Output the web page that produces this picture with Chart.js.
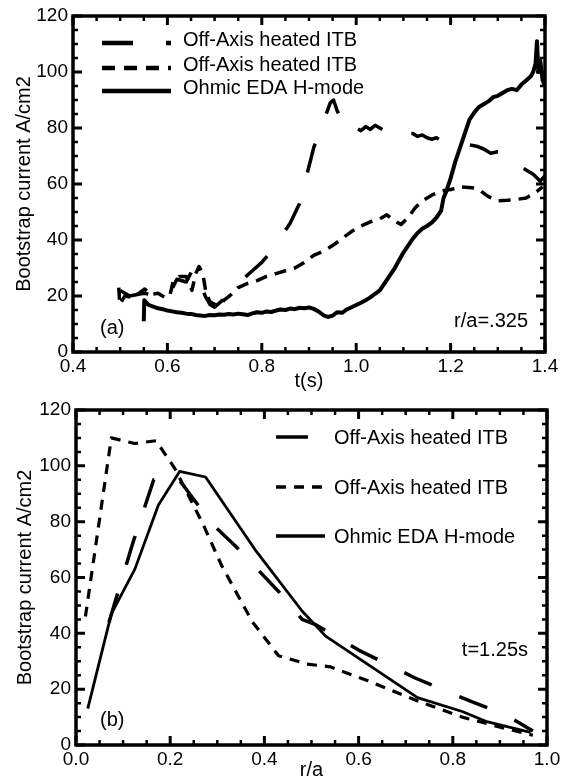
<!DOCTYPE html>
<html>
<head>
<meta charset="utf-8">
<script src="https://cdn.jsdelivr.net/npm/chart.js@4.4.0/dist/chart.umd.min.js"></script>
<style>
  body { margin: 0; background: #fff; }
  canvas { display: block; }
</style>
</head>
<body>
<canvas id="chartTempo" width="569" height="393"></canvas>
<canvas id="chartRaggio" width="569" height="389"></canvas>
<script>
// --- dati pannello (a): corrente di bootstrap nel tempo, r/a = .325 ---
var tempoITB1 = [0.50, 0.52, 0.55, 0.58, 0.60, 0.62, 0.64, 0.655, 0.67, 0.68, 0.69, 0.70, 0.72, 0.74, 0.76, 0.78, 0.80, 0.82, 0.84, 0.86, 0.88, 0.895, 0.91, 0.93, 0.945, 0.952, 0.96, 0.97, 0.985, 1.00, 1.01, 1.02, 1.03, 1.04, 1.05, 1.06, 1.07, 1.08, 1.09, 1.10, 1.11, 1.12, 1.13, 1.14, 1.15, 1.16, 1.17, 1.18, 1.19, 1.20, 1.22, 1.24, 1.255, 1.27, 1.285, 1.30, 1.32, 1.335, 1.35, 1.36, 1.375, 1.39, 1.40];
var jITB1 = [22, 20, 21, 20, 19, 26, 25, 30, 25, 20, 17, 16, 19, 22, 26, 29, 32, 36, 41, 46, 53, 63, 73, 82, 89, 90, 86, 83, 78.5, 80, 79, 80.5, 79.5, 81, 80, 79, 80, 79.5, 78.5, 79, 78, 78, 77, 77.5, 76.5, 76, 76.5, 75.5, 75, 74.5, 74.5, 74, 73.5, 72.5, 71, 71.5, 71, 68.5, 66, 65, 63.5, 61, 63];

var tempoITB2 = [0.497, 0.499, 0.51, 0.525, 0.54, 0.552, 0.565, 0.58, 0.595, 0.605, 0.612, 0.625, 0.64, 0.652, 0.66, 0.667, 0.675, 0.682, 0.69, 0.70, 0.712, 0.72, 0.735, 0.75, 0.77, 0.79, 0.81, 0.83, 0.85, 0.87, 0.89, 0.91, 0.93, 0.95, 0.97, 0.99, 1.01, 1.03, 1.05, 1.065, 1.08, 1.095, 1.11, 1.125, 1.14, 1.16, 1.18, 1.20, 1.22, 1.245, 1.26, 1.28, 1.30, 1.32, 1.34, 1.36, 1.38, 1.395];
var jITB2 = [23, 17, 20, 19.5, 21, 22.5, 20.5, 21, 19.5, 20, 25, 27, 27, 22, 28, 30.5, 28, 21, 18, 17, 16.8, 18.5, 20.5, 23, 24.5, 25.5, 27, 28, 29, 30, 32, 34.5, 36, 38, 40.5, 43, 45, 46.5, 47.5, 49, 47, 45.5, 48, 51.5, 54, 56, 57.5, 58, 59, 58.7, 58, 55.5, 54, 54.2, 54.5, 55, 57, 59];

var tempoOhm = [0.550, 0.551, 0.56, 0.57, 0.58, 0.59, 0.60, 0.61, 0.62, 0.63, 0.64, 0.65, 0.66, 0.67, 0.68, 0.69, 0.70, 0.71, 0.72, 0.73, 0.74, 0.75, 0.76, 0.77, 0.78, 0.79, 0.80, 0.81, 0.82, 0.83, 0.84, 0.85, 0.86, 0.87, 0.88, 0.89, 0.90, 0.91, 0.92, 0.93, 0.94, 0.95, 0.96, 0.97, 0.98, 0.99, 1.00, 1.01, 1.02, 1.03, 1.04, 1.05, 1.06, 1.07, 1.08, 1.09, 1.10, 1.11, 1.12, 1.13, 1.14, 1.15, 1.16, 1.17, 1.18, 1.185, 1.19, 1.20, 1.21, 1.22, 1.23, 1.24, 1.25, 1.26, 1.27, 1.28, 1.29, 1.30, 1.31, 1.32, 1.33, 1.34, 1.35, 1.36, 1.37, 1.375, 1.38, 1.383, 1.386, 1.39, 1.395, 1.40];
var jOhm = [11, 18.5, 16.8, 16.2, 15.6, 15.3, 14.8, 14.5, 14.2, 14.0, 13.7, 13.6, 13.2, 13.0, 12.9, 13.2, 13.1, 13.4, 13.3, 13.6, 13.4, 13.7, 13.5, 13.2, 13.8, 14.2, 14.0, 14.5, 14.3, 14.8, 15.2, 15.0, 15.5, 15.3, 15.8, 15.6, 15.9, 15.4, 14.5, 13.2, 12.5, 13.0, 14.2, 14.0, 15.2, 16.0, 16.8, 17.6, 18.5, 19.5, 20.8, 22.0, 24.5, 27.0, 29.5, 32.5, 35.5, 38.0, 40.5, 42.5, 44.0, 45.0, 46.2, 48.0, 50.5, 55, 57, 62, 68, 73, 78, 83, 85.5, 87.5, 88.5, 89.5, 91.0, 91.5, 92.5, 93.5, 94.0, 93.5, 95.5, 97.0, 98.5, 100, 103, 111, 100, 104, 97, 95];

// --- dati pannello (b): profilo radiale, t = 1.25 s ---
var raggioITB1 = [0.07, 0.12, 0.165, 0.21, 0.29, 0.34, 0.43, 0.48, 0.51, 0.60, 0.72, 0.84, 0.91, 0.97];
var profITB1 = [44, 72, 95, 97, 79, 71, 55, 45, 43, 34, 24, 15.5, 11, 5];

var raggioITB2 = [0.02, 0.075, 0.125, 0.17, 0.21, 0.27, 0.31, 0.375, 0.43, 0.49, 0.54, 0.62, 0.73, 0.82, 0.91, 0.97];
var profITB2 = [46, 110, 108, 109, 99, 79, 64, 44, 32, 29, 28, 23, 15.5, 10, 6, 3.5];

var raggioOhm = [0.025, 0.075, 0.125, 0.175, 0.22, 0.275, 0.38, 0.48, 0.53, 0.645, 0.725, 0.82, 0.87, 0.965];
var profOhm = [13, 47, 63, 86, 98, 96, 70, 48, 39, 26, 17, 12, 8.5, 4.5];

// --- etichette degli assi ---
var tickTempo = [0.4, 0.6, 0.8, 1.0, 1.2, 1.4];
var tickRaggio = [0.0, 0.2, 0.4, 0.6, 0.8, 1.0];
var tickCorrente = [0, 20, 40, 60, 80, 100, 120];
var nomiSerie = ['Off-Axis heated ITB', 'Off-Axis heated ITB', 'Ohmic EDA H-mode'];

var FONT = "'Liberation Sans', Arial, sans-serif";

function coppie(xs, ys) {
    return xs.map(function (x, i) { return { x: x, y: ys[i] }; });
}

// cornice con tacche interne, legenda e scritte: un plugin per grafico
function decorazioni(cfg) {
    return {
        id: 'decorazioni',
        afterDraw: function (chart) {
            var ctx = chart.ctx;
            var sx = chart.scales.x, sy = chart.scales.y;
            var primo = cfg.xTicks[0], ultimo = cfg.xTicks[cfg.xTicks.length - 1];
            // bordi del riquadro presi dalle scale
            var sin = sx.getPixelForValue(primo), des = sx.getPixelForValue(ultimo);
            var alto = sy.getPixelForValue(120), basso = sy.getPixelForValue(0);
            ctx.save();
            ctx.strokeStyle = '#000000';
            ctx.fillStyle = '#000000';
            ctx.setLineDash([]);

            var segni = [];
            var i, k;
            for (i = 0; i < cfg.xTicks.length; i++) {
                segni.push([sx.getPixelForValue(cfg.xTicks[i]), 'x', 9]);
                if (i < cfg.xTicks.length - 1) {
                    for (k = 1; k < 4; k++) segni.push([sx.getPixelForValue(cfg.xTicks[i] + k * 0.05), 'x', 5]);
                }
            }
            for (i = 0; i < tickCorrente.length; i++) {
                segni.push([sy.getPixelForValue(tickCorrente[i]), 'y', 9]);
                if (i < tickCorrente.length - 1) {
                    for (k = 1; k < 4; k++) segni.push([sy.getPixelForValue(tickCorrente[i] + k * 5), 'y', 5]);
                }
            }
            segni.forEach(function (s) {
                ctx.lineWidth = s[2] > 6 ? 3 : 2.5;
                ctx.beginPath();
                if (s[1] === 'x') {
                    ctx.moveTo(s[0], basso); ctx.lineTo(s[0], basso - s[2]);
                    ctx.moveTo(s[0], alto); ctx.lineTo(s[0], alto + s[2]);
                } else {
                    ctx.moveTo(sin, s[0]); ctx.lineTo(sin + s[2], s[0]);
                    ctx.moveTo(des, s[0]); ctx.lineTo(des - s[2], s[0]);
                }
                ctx.stroke();
            });
            ctx.lineWidth = 3.5;
            ctx.beginPath();
            ctx.moveTo(sin, alto);
            ctx.lineTo(des, alto);
            ctx.lineTo(des, basso);
            ctx.lineTo(sin, basso);
            ctx.closePath();
            ctx.stroke();

            // legenda
            ctx.textBaseline = 'middle';
            ctx.font = '20px ' + FONT;
            chart.data.datasets.forEach(function (ds, j) {
                var y = cfg.legendaY[j];
                ctx.lineWidth = cfg.legendaSpessore;
                ctx.setLineDash(cfg.legendaDash[j]);
                ctx.beginPath();
                ctx.moveTo(cfg.legendaX0, y);
                ctx.lineTo(cfg.legendaX1, y);
                ctx.stroke();
                ctx.setLineDash([]);
                ctx.textAlign = 'left';
                ctx.fillText(ds.label, cfg.testoX, y + cfg.testoDy);
            });
            ctx.textAlign = 'left';
            ctx.fillText(cfg.lettera, cfg.letteraX, cfg.letteraY);
            ctx.textAlign = 'right';
            ctx.fillText(cfg.nota, cfg.notaX, cfg.notaY);
            ctx.restore();
        }
    };
}

function serie(label, dati, dash, lw) {
    return {
        label: label,
        data: dati,
        borderColor: '#000',
        backgroundColor: 'transparent',
        borderWidth: lw,
        borderDash: dash,
        borderJoinStyle: 'round',
        pointRadius: 0,
        tension: 0,
        fill: false
    };
}

function opzioniAssi(xMin, xMax, xTicks, asseLarg, asseAlt, titoloYPad, titoloXPad, titoloX) {
    return {
        x: {
            type: 'linear',
            min: xMin,
            max: xMax,
            grid: { display: false, drawTicks: false },
            border: { display: false },
            afterBuildTicks: function (s) { s.ticks = xTicks.map(function (v) { return { value: v }; }); },
            afterFit: function (s) { s.height = asseAlt; s.paddingLeft = 0; s.paddingRight = 0; },
            ticks: {
                color: '#000',
                padding: 3,
                maxRotation: 0,
                font: { family: FONT, size: 19 },
                callback: function (v) { return v.toFixed(1); }
            },
            title: { display: true, text: titoloX, color: '#000', font: { family: FONT, size: 20 }, padding: { top: titoloXPad, bottom: 0 } }
        },
        y: {
            type: 'linear',
            min: 0,
            max: 120,
            grid: { display: false, drawTicks: false },
            border: { display: false },
            afterBuildTicks: function (s) { s.ticks = tickCorrente.map(function (v) { return { value: v }; }); },
            afterFit: function (s) { s.width = asseLarg; s.paddingTop = 0; s.paddingBottom = 0; },
            ticks: { color: '#000', padding: 5, font: { family: FONT, size: 19 } },
            title: { display: true, text: 'Bootstrap current A/cm2', color: '#000', font: { family: FONT, size: 20 }, padding: { top: titoloYPad, bottom: 0 } }
        }
    };
}

// --- PANNELLO (a) ---
new Chart(document.getElementById('chartTempo').getContext('2d'), {
    type: 'line',
    data: {
        datasets: [
            serie(nomiSerie[0], coppie(tempoITB1, jITB1), [30, 32], 3.5),
            serie(nomiSerie[1], coppie(tempoITB2, jITB2), [12, 8], 3.5),
            serie(nomiSerie[2], coppie(tempoOhm, jOhm), [], 4)
        ]
    },
    options: {
        responsive: false,
        animation: false,
        devicePixelRatio: 1,
        layout: { padding: { left: 0, right: 24, top: 16, bottom: 0 } },
        scales: opzioniAssi(0.4, 1.4, tickTempo, 73, 41, 12, 1, 't(s)'),
        plugins: { legend: { display: false }, tooltip: { enabled: false } }
    },
    plugins: [decorazioni({
        xTicks: tickTempo,
        legendaX0: 102, legendaX1: 171, testoX: 183, testoDy: -3,
        legendaY: [43, 68, 91], legendaSpessore: 4.5,
        legendaDash: [[31, 33], [13, 9], []],
        lettera: '(a)', letteraX: 100, letteraY: 328,
        nota: 'r/a=.325', notaX: 528, notaY: 321
    })]
});

// --- PANNELLO (b) ---
new Chart(document.getElementById('chartRaggio').getContext('2d'), {
    type: 'line',
    data: {
        datasets: [
            serie(nomiSerie[0], coppie(raggioITB1, profITB1), [30, 30], 3.5),
            serie(nomiSerie[1], coppie(raggioITB2, profITB2), [10, 8], 3.2),
            serie(nomiSerie[2], coppie(raggioOhm, profOhm), [], 2.8)
        ]
    },
    options: {
        responsive: false,
        animation: false,
        devicePixelRatio: 1,
        layout: { padding: { left: 3, right: 22, top: 17, bottom: 0 } },
        scales: opzioniAssi(0.0, 1.0, tickRaggio, 73, 37, 10, 0, 'r/a'),
        plugins: { legend: { display: false }, tooltip: { enabled: false } }
    },
    plugins: [decorazioni({
        xTicks: tickRaggio,
        legendaX0: 276, legendaX1: 325, testoX: 334, testoDy: 1,
        legendaY: [44, 94, 143], legendaSpessore: 3.5,
        legendaDash: [[32, 30], [10, 8], []],
        lettera: '(b)', letteraX: 100, letteraY: 327,
        nota: 't=1.25s', notaX: 528, notaY: 257
    })]
});
</script>
</body>
</html>
